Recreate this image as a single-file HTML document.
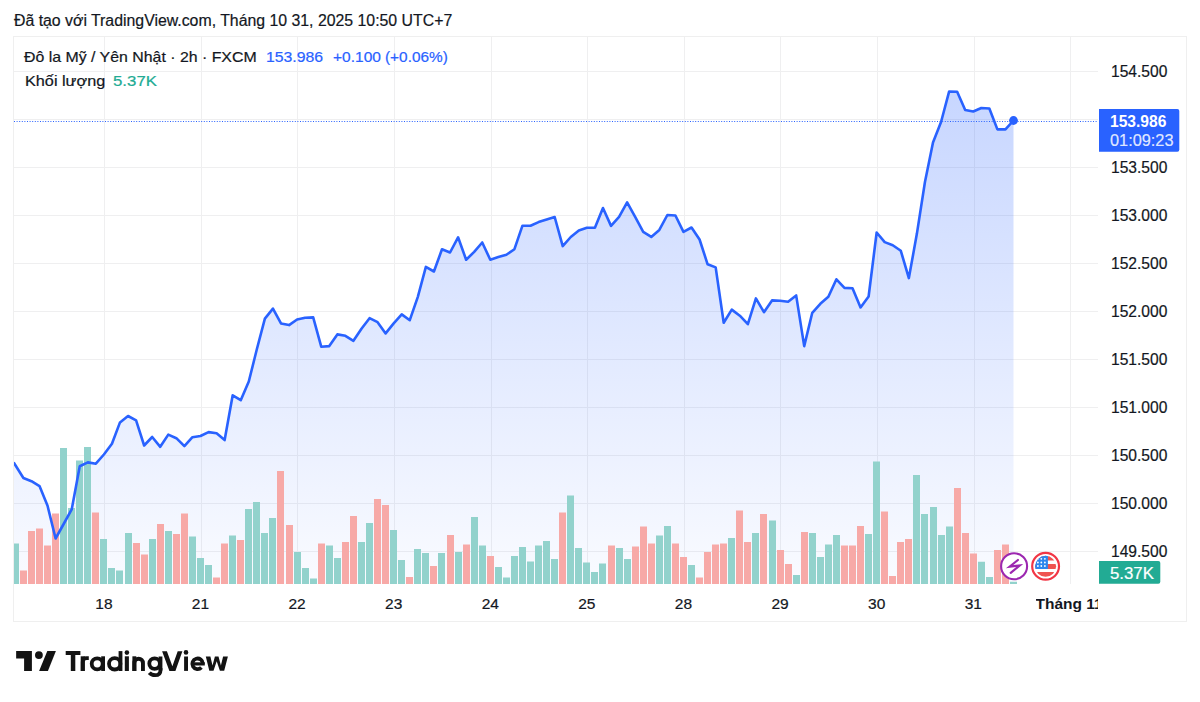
<!DOCTYPE html>
<html><head><meta charset="utf-8">
<style>
html,body{margin:0;padding:0;background:#fff;}
body{width:1200px;height:702px;position:relative;overflow:hidden;font-family:"Liberation Sans",sans-serif;color:#131722;}
.t{position:absolute;white-space:nowrap;-webkit-text-stroke:0.2px currentColor;}
.tl{width:80px;text-align:center;font-size:15.5px;line-height:17.81px;}
#frame{position:absolute;left:13px;top:36px;width:1172px;height:584px;border:1px solid #EFEFEF;}
svg{position:absolute;left:0;top:0;}
</style></head><body>
<div id="frame"></div>
<svg width="1200" height="702" viewBox="0 0 1200 702">
<defs>
<linearGradient id="ag" x1="0" y1="91.6" x2="0" y2="584" gradientUnits="userSpaceOnUse">
<stop offset="0" stop-color="#2962FF" stop-opacity="0.26"/>
<stop offset="1" stop-color="#2962FF" stop-opacity="0.025"/>
</linearGradient>
<clipPath id="pane"><rect x="14" y="37" width="1084" height="547"/></clipPath>
<clipPath id="flag"><circle cx="1045.6" cy="566.3" r="10.5"/></clipPath>
</defs>
<g stroke="#EFEFF0" stroke-width="1">
<line x1="14" y1="551.5" x2="1098" y2="551.5"/>
<line x1="14" y1="503.5" x2="1098" y2="503.5"/>
<line x1="14" y1="455.5" x2="1098" y2="455.5"/>
<line x1="14" y1="407.5" x2="1098" y2="407.5"/>
<line x1="14" y1="359.5" x2="1098" y2="359.5"/>
<line x1="14" y1="311.5" x2="1098" y2="311.5"/>
<line x1="14" y1="263.5" x2="1098" y2="263.5"/>
<line x1="14" y1="215.5" x2="1098" y2="215.5"/>
<line x1="14" y1="167.5" x2="1098" y2="167.5"/>
<line x1="14" y1="119.5" x2="1098" y2="119.5"/>
<line x1="14" y1="71.5" x2="1098" y2="71.5"/>
<line x1="104.5" y1="37" x2="104.5" y2="584"/>
<line x1="201.5" y1="37" x2="201.5" y2="584"/>
<line x1="297.5" y1="37" x2="297.5" y2="584"/>
<line x1="394.5" y1="37" x2="394.5" y2="584"/>
<line x1="491.5" y1="37" x2="491.5" y2="584"/>
<line x1="587.5" y1="37" x2="587.5" y2="584"/>
<line x1="684.5" y1="37" x2="684.5" y2="584"/>
<line x1="780.5" y1="37" x2="780.5" y2="584"/>
<line x1="877.5" y1="37" x2="877.5" y2="584"/>
<line x1="974.5" y1="37" x2="974.5" y2="584"/>
<line x1="1070.5" y1="37" x2="1070.5" y2="584"/>
</g>
<g clip-path="url(#pane)">
<path d="M14.00 463.00 L23.40 478.00 L31.45 481.20 L39.50 486.10 L47.55 505.80 L55.60 538.50 L63.65 524.00 L71.70 509.40 L79.75 466.20 L87.80 462.40 L95.85 463.70 L103.90 454.50 L111.95 443.80 L119.99 422.40 L128.04 416.00 L136.09 420.30 L144.14 445.50 L152.19 437.00 L160.24 446.80 L168.29 434.60 L176.34 438.20 L184.39 446.20 L192.44 437.20 L200.49 436.00 L208.54 432.10 L216.59 433.30 L224.64 440.10 L232.69 395.30 L240.74 400.20 L248.79 381.50 L256.84 349.30 L264.89 318.60 L272.94 308.60 L280.99 323.40 L289.04 325.10 L297.09 319.50 L305.14 317.80 L313.19 317.40 L321.23 346.70 L329.28 346.10 L337.33 334.40 L345.38 335.80 L353.43 340.80 L361.48 328.80 L369.53 318.20 L377.58 322.20 L385.63 333.40 L393.68 323.40 L401.73 314.40 L409.78 320.20 L417.83 296.80 L425.88 266.90 L433.93 271.50 L441.98 249.30 L450.03 252.50 L458.08 237.30 L466.13 259.70 L474.18 251.90 L482.23 242.50 L490.28 259.70 L498.33 257.10 L506.38 254.70 L514.43 249.20 L522.47 225.70 L530.52 225.70 L538.57 222.10 L546.62 219.50 L554.67 217.00 L562.72 246.10 L570.77 237.00 L578.82 230.40 L586.87 227.70 L594.92 227.70 L602.97 208.00 L611.02 225.90 L619.07 216.90 L627.12 202.40 L635.17 216.90 L643.22 231.90 L651.27 236.90 L659.32 229.90 L667.37 215.00 L675.42 215.50 L683.47 231.90 L691.52 227.50 L699.57 239.50 L707.62 264.30 L715.67 267.40 L723.71 322.70 L731.76 309.60 L739.81 315.70 L747.86 324.20 L755.91 298.40 L763.96 312.20 L772.01 300.40 L780.06 300.80 L788.11 301.80 L796.16 295.40 L804.21 346.10 L812.26 312.80 L820.31 303.80 L828.36 296.80 L836.41 279.30 L844.46 287.90 L852.51 288.30 L860.56 307.40 L868.61 296.50 L876.66 232.50 L884.71 242.10 L892.76 245.20 L900.81 250.80 L908.86 278.10 L916.91 233.60 L924.95 182.00 L933.00 142.50 L941.05 122.00 L949.10 91.60 L957.15 91.70 L965.20 110.00 L973.25 111.50 L981.30 108.00 L989.35 108.50 L997.40 129.40 L1005.45 129.40 L1013.50 120.50 L1013.50 584 L14 584 Z" fill="url(#ag)"/>
<path d="M14 543.6H19V584H14ZM60 448.0H67V584H60ZM68 508.0H75V584H68ZM76 460.4H83V584H76ZM84 447.0H91V584H84ZM100 539.0H107V584H100ZM108 568.0H115V584H108ZM116 570.6H123V584H116ZM125 533.0H132V584H125ZM149 539.0H156V584H149ZM165 531.0H172V584H165ZM189 536.6H196V584H189ZM197 558.0H204V584H197ZM205 565.0H212V584H205ZM229 535.6H236V584H229ZM245 509.0H252V584H245ZM253 502.0H260V584H253ZM261 533.0H268V584H261ZM269 518.0H276V584H269ZM294 552.0H301V584H294ZM302 568.0H309V584H302ZM310 578.6H317V584H310ZM326 545.4H333V584H326ZM334 558.0H341V584H334ZM358 542.0H365V584H358ZM366 523.0H373V584H366ZM390 530.0H397V584H390ZM398 560.0H405V584H398ZM414 549.0H421V584H414ZM422 553.0H429V584H422ZM438 553.0H445V584H438ZM455 552.0H462V584H455ZM471 517.0H478V584H471ZM479 545.4H486V584H479ZM495 567.0H502V584H495ZM503 577.6H510V584H503ZM511 556.0H518V584H511ZM519 547.0H526V584H519ZM527 561.4H534V584H527ZM535 545.4H542V584H535ZM543 541.0H550V584H543ZM551 559.0H558V584H551ZM567 495.4H574V584H567ZM575 548.0H582V584H575ZM583 562.4H590V584H583ZM591 572.0H598V584H591ZM599 563.4H606V584H599ZM616 548.0H623V584H616ZM624 559.0H631V584H624ZM656 535.6H663V584H656ZM664 526.0H671V584H664ZM688 565.0H695V584H688ZM728 538.0H735V584H728ZM752 533.0H759V584H752ZM769 520.4H776V584H769ZM793 575.0H800V584H793ZM809 533.0H816V584H809ZM817 557.0H824V584H817ZM825 544.4H832V584H825ZM833 535.0H840V584H833ZM865 534.0H872V584H865ZM873 461.4H880V584H873ZM913 475.0H920V584H913ZM921 514.0H928V584H921ZM930 507.0H937V584H930ZM938 535.0H945V584H938ZM946 526.6H953V584H946ZM978 561.8H985V584H978ZM986 576.9H993V584H986ZM1010 581.8H1017V584H1010Z" fill="#92D2CC"/>
<path d="M20 570.4H27V584H20ZM28 531.0H35V584H28ZM36 528.4H43V584H36ZM44 545.4H51V584H44ZM52 513.4H59V584H52ZM92 512.4H99V584H92ZM133 543.0H140V584H133ZM141 554.4H148V584H141ZM157 524.0H164V584H157ZM173 534.0H180V584H173ZM181 513.4H188V584H181ZM213 577.6H220V584H213ZM221 543.6H228V584H221ZM237 540.0H244V584H237ZM277 471.0H284V584H277ZM286 525.0H293V584H286ZM318 543.6H325V584H318ZM342 542.0H349V584H342ZM350 516.0H357V584H350ZM374 499.0H381V584H374ZM382 505.0H389V584H382ZM406 577.0H413V584H406ZM430 566.0H437V584H430ZM447 535.0H454V584H447ZM463 544.6H470V584H463ZM487 556.0H494V584H487ZM559 512.4H566V584H559ZM608 545.4H615V584H608ZM632 546.4H639V584H632ZM640 526.6H647V584H640ZM648 543.6H655V584H648ZM672 543.6H679V584H672ZM680 557.0H687V584H680ZM696 577.6H703V584H696ZM704 552.0H711V584H704ZM712 544.4H719V584H712ZM720 543.6H727V584H720ZM736 510.6H743V584H736ZM744 542.0H751V584H744ZM760 514.0H767V584H760ZM777 550.0H784V584H777ZM785 564.0H792V584H785ZM801 532.0H808V584H801ZM841 545.4H848V584H841ZM849 545.4H856V584H849ZM857 526.0H864V584H857ZM881 511.4H888V584H881ZM889 576.0H896V584H889ZM897 542.0H904V584H897ZM905 539.0H912V584H905ZM954 488.0H961V584H954ZM962 533.0H969V584H962ZM970 553.6H977V584H970ZM994 550.0H1001V584H994ZM1002 544.6H1009V584H1002Z" fill="#F7A9A7"/>
<line x1="14" y1="121.5" x2="1098" y2="121.5" stroke="#2962FF" stroke-width="1" stroke-dasharray="1 1.6" />
<path d="M14.00 463.00 L23.40 478.00 L31.45 481.20 L39.50 486.10 L47.55 505.80 L55.60 538.50 L63.65 524.00 L71.70 509.40 L79.75 466.20 L87.80 462.40 L95.85 463.70 L103.90 454.50 L111.95 443.80 L119.99 422.40 L128.04 416.00 L136.09 420.30 L144.14 445.50 L152.19 437.00 L160.24 446.80 L168.29 434.60 L176.34 438.20 L184.39 446.20 L192.44 437.20 L200.49 436.00 L208.54 432.10 L216.59 433.30 L224.64 440.10 L232.69 395.30 L240.74 400.20 L248.79 381.50 L256.84 349.30 L264.89 318.60 L272.94 308.60 L280.99 323.40 L289.04 325.10 L297.09 319.50 L305.14 317.80 L313.19 317.40 L321.23 346.70 L329.28 346.10 L337.33 334.40 L345.38 335.80 L353.43 340.80 L361.48 328.80 L369.53 318.20 L377.58 322.20 L385.63 333.40 L393.68 323.40 L401.73 314.40 L409.78 320.20 L417.83 296.80 L425.88 266.90 L433.93 271.50 L441.98 249.30 L450.03 252.50 L458.08 237.30 L466.13 259.70 L474.18 251.90 L482.23 242.50 L490.28 259.70 L498.33 257.10 L506.38 254.70 L514.43 249.20 L522.47 225.70 L530.52 225.70 L538.57 222.10 L546.62 219.50 L554.67 217.00 L562.72 246.10 L570.77 237.00 L578.82 230.40 L586.87 227.70 L594.92 227.70 L602.97 208.00 L611.02 225.90 L619.07 216.90 L627.12 202.40 L635.17 216.90 L643.22 231.90 L651.27 236.90 L659.32 229.90 L667.37 215.00 L675.42 215.50 L683.47 231.90 L691.52 227.50 L699.57 239.50 L707.62 264.30 L715.67 267.40 L723.71 322.70 L731.76 309.60 L739.81 315.70 L747.86 324.20 L755.91 298.40 L763.96 312.20 L772.01 300.40 L780.06 300.80 L788.11 301.80 L796.16 295.40 L804.21 346.10 L812.26 312.80 L820.31 303.80 L828.36 296.80 L836.41 279.30 L844.46 287.90 L852.51 288.30 L860.56 307.40 L868.61 296.50 L876.66 232.50 L884.71 242.10 L892.76 245.20 L900.81 250.80 L908.86 278.10 L916.91 233.60 L924.95 182.00 L933.00 142.50 L941.05 122.00 L949.10 91.60 L957.15 91.70 L965.20 110.00 L973.25 111.50 L981.30 108.00 L989.35 108.50 L997.40 129.40 L1005.45 129.40 L1013.50 120.50" fill="none" stroke="#2962FF" stroke-width="2.6" stroke-linejoin="round" stroke-linecap="round"/>
<circle cx="1013.50" cy="120.5" r="4.4" fill="#2962FF"/>
</g>
<path d="M1099 109 H1177.3 Q1179.3 109 1179.3 111 V149.7 Q1179.3 151.7 1177.3 151.7 H1099 Z" fill="#2962FF"/>
<path d="M1099 561 H1158.3 Q1160.3 561 1160.3 563 V581.7 Q1160.3 583.7 1158.3 583.7 H1099 Z" fill="#22AB94"/>
<circle cx="1014.1" cy="566.3" r="13" fill="#fff" stroke="#9C27B0" stroke-width="2.1"/>
<path d="M1017.9 560 L1009.6 566.7 L1019.6 565.5 L1010.7 572.8" fill="none" stroke="#9C27B0" stroke-width="2.2" stroke-linejoin="miter" stroke-linecap="round"/>
<circle cx="1045.6" cy="566.3" r="13.4" fill="#fff" stroke="#F23645" stroke-width="2.2"/>
<g clip-path="url(#flag)">
<rect x="1034" y="555" width="24" height="24" fill="#fff"/>
<rect x="1034" y="555" width="24" height="5.5" fill="#EF5350"/>
<rect x="1034" y="564" width="24" height="5" fill="#EF5350"/>
<rect x="1034" y="572" width="24" height="6" fill="#EF5350"/>
<rect x="1034" y="555" width="13.9" height="14" fill="#2E86EE"/>
<g fill="#fff">
<circle cx="1037.9" cy="558.8" r="0.9"/><circle cx="1041.3" cy="558.8" r="0.9"/><circle cx="1044.9" cy="558.8" r="0.9"/>
<circle cx="1037.9" cy="562.5" r="0.9"/><circle cx="1041.3" cy="562.5" r="0.9"/><circle cx="1044.9" cy="562.5" r="0.9"/>
<circle cx="1037.9" cy="566" r="0.9"/><circle cx="1041.3" cy="566" r="0.9"/><circle cx="1044.9" cy="566" r="0.9"/>
</g>
</g>
<clipPath id="wm"><rect x="60" y="651" width="175" height="20.9"/></clipPath>
<g fill="#131313" stroke="none">
<path d="M65.7 651.1H80.4V654.9H75.3V671H70.8V654.9H65.7Z"/>
<rect x="80.7" y="656.3" width="4.1" height="14.7"/>
<rect x="101.2" y="656.3" width="3.8" height="14.7"/>
<rect x="118.6" y="651.1" width="3.8" height="19.9"/>
<circle cx="126.9" cy="652.6" r="2.3"/>
<rect x="124.8" y="656.3" width="4.1" height="14.7"/>
<rect x="132.4" y="656.3" width="3.9" height="14.7"/>
<path d="M162.1 651.2H166.9L172.4 666.2L177.7 651.2H182.4L175.4 670.9H169.4Z"/>
<circle cx="186" cy="652.4" r="2.3"/>
<rect x="184.1" y="656.5" width="3.9" height="14.4"/>
<rect x="158.6" y="656.5" width="3.8" height="14"/>
<path d="M205.8 656.5H210.4L212.5 665.6L214.9 656.5H218.5L220.9 665.6L223.1 656.5H227.9L224.2 670.8H219.9L216.7 661.2L213.5 670.8H209.3Z"/>
</g>
<g fill="none" stroke="#131313" stroke-width="3.8">
<path d="M82.75 671V662Q82.75 658.2 86.5 658.2H88.8"/>
<circle cx="97.2" cy="663.8" r="5.5"/>
<circle cx="114.7" cy="663.8" r="5.7"/>
<path d="M134.35 671V663A4.3 4.3 0 0 1 142.95 663V671" stroke-width="3.9"/>
<circle cx="154.6" cy="663.6" r="5.3"/>
<path d="M160.5 668V670.2Q160.5 675.2 155.2 675.2Q151.3 675.2 149.3 672.8"/>
<path d="M202.9 663.7A5.3 5.3 0 1 0 201.4 667.5"/>
<path d="M191 663.9H204.8" stroke-width="3.2"/>

</g>
<g fill="#131313">
<path d="M16.15 651.1 H31.9 V671.05 H24.1 V658.5 H16.15 Z"/>
<circle cx="38.9" cy="655.1" r="3.9"/>
<path d="M47.3 651.1 H55.9 L47.9 671.05 H39.1 Z"/>
</g>
</svg>
<div class="t" style="left:13.50px;top:12.22px;font-size:16px;line-height:18.38px;font-weight:400;color:#131722;transform:scaleX(0.99);transform-origin:0 0;">Đã tạo với TradingView.com, Tháng 10 31, 2025 10:50 UTC+7</div>
<div class="t" style="left:24.00px;top:49.28px;font-size:14.5px;line-height:16.66px;font-weight:400;color:#131722;transform:scaleX(1.095);transform-origin:0 0;">Đô la Mỹ / Yên Nhật · 2h · FXCM</div>
<div class="t" style="left:266.00px;top:49.28px;font-size:14.5px;line-height:16.66px;font-weight:400;color:#2962FF;transform:scaleX(1.09);transform-origin:0 0;">153.986</div>
<div class="t" style="left:332.50px;top:49.28px;font-size:14.5px;line-height:16.66px;font-weight:400;color:#2962FF;transform:scaleX(1.07);transform-origin:0 0;">+0.100</div>
<div class="t" style="left:385.00px;top:49.28px;font-size:14.5px;line-height:16.66px;font-weight:400;color:#2962FF;transform:scaleX(1.06);transform-origin:0 0;">(+0.06%)</div>
<div class="t" style="left:24.50px;top:72.63px;font-size:14.5px;line-height:16.66px;font-weight:400;color:#131722;transform:scaleX(1.12);transform-origin:0 0;">Khối lượng</div>
<div class="t" style="left:113.00px;top:72.63px;font-size:14.5px;line-height:16.66px;font-weight:400;color:#22AB94;transform:scaleX(1.16);transform-origin:0 0;">5.37K</div>
<div class="t" style="left:1110.70px;top:542.92px;font-size:16px;line-height:18.38px;font-weight:400;color:#131722;transform:scaleX(0.975);transform-origin:0 0;">149.500</div>
<div class="t" style="left:1110.70px;top:494.90px;font-size:16px;line-height:18.38px;font-weight:400;color:#131722;transform:scaleX(0.975);transform-origin:0 0;">150.000</div>
<div class="t" style="left:1110.70px;top:446.88px;font-size:16px;line-height:18.38px;font-weight:400;color:#131722;transform:scaleX(0.975);transform-origin:0 0;">150.500</div>
<div class="t" style="left:1110.70px;top:398.86px;font-size:16px;line-height:18.38px;font-weight:400;color:#131722;transform:scaleX(0.975);transform-origin:0 0;">151.000</div>
<div class="t" style="left:1110.70px;top:350.84px;font-size:16px;line-height:18.38px;font-weight:400;color:#131722;transform:scaleX(0.975);transform-origin:0 0;">151.500</div>
<div class="t" style="left:1110.70px;top:302.82px;font-size:16px;line-height:18.38px;font-weight:400;color:#131722;transform:scaleX(0.975);transform-origin:0 0;">152.000</div>
<div class="t" style="left:1110.70px;top:254.80px;font-size:16px;line-height:18.38px;font-weight:400;color:#131722;transform:scaleX(0.975);transform-origin:0 0;">152.500</div>
<div class="t" style="left:1110.70px;top:206.78px;font-size:16px;line-height:18.38px;font-weight:400;color:#131722;transform:scaleX(0.975);transform-origin:0 0;">153.000</div>
<div class="t" style="left:1110.70px;top:158.76px;font-size:16px;line-height:18.38px;font-weight:400;color:#131722;transform:scaleX(0.975);transform-origin:0 0;">153.500</div>
<div class="t" style="left:1110.70px;top:62.72px;font-size:16px;line-height:18.38px;font-weight:400;color:#131722;transform:scaleX(0.975);transform-origin:0 0;">154.500</div>
<div class="t tl" style="left:63.90px;top:594.97px">18</div>
<div class="t tl" style="left:160.49px;top:594.97px">21</div>
<div class="t tl" style="left:257.09px;top:594.97px">22</div>
<div class="t tl" style="left:353.68px;top:594.97px">23</div>
<div class="t tl" style="left:450.28px;top:594.97px">24</div>
<div class="t tl" style="left:546.87px;top:594.97px">25</div>
<div class="t tl" style="left:643.47px;top:594.97px">28</div>
<div class="t tl" style="left:740.06px;top:594.97px">29</div>
<div class="t tl" style="left:836.66px;top:594.97px">30</div>
<div class="t tl" style="left:933.25px;top:594.97px">31</div>
<div class="t" style="left:1035.5px;top:594.97px;width:62px;overflow:hidden;-webkit-text-stroke:0;font-size:15.5px;line-height:17.81px;font-weight:bold">Tháng 11</div>
<div class="t" style="left:1110.40px;top:113.42px;font-size:16px;line-height:18.38px;font-weight:700;color:#fff;transform:scaleX(0.975);transform-origin:0 0;-webkit-text-stroke:0;">153.986</div>
<div class="t" style="left:1109.50px;top:131.62px;font-size:16px;line-height:18.38px;font-weight:400;color:rgba(255,255,255,0.85);transform:scaleX(1.02);transform-origin:0 0;">01:09:23</div>
<div class="t" style="left:1110.00px;top:564.92px;font-size:16px;line-height:18.38px;font-weight:400;color:#fff;transform:scaleX(1.05);transform-origin:0 0;">5.37K</div>
</body></html>
